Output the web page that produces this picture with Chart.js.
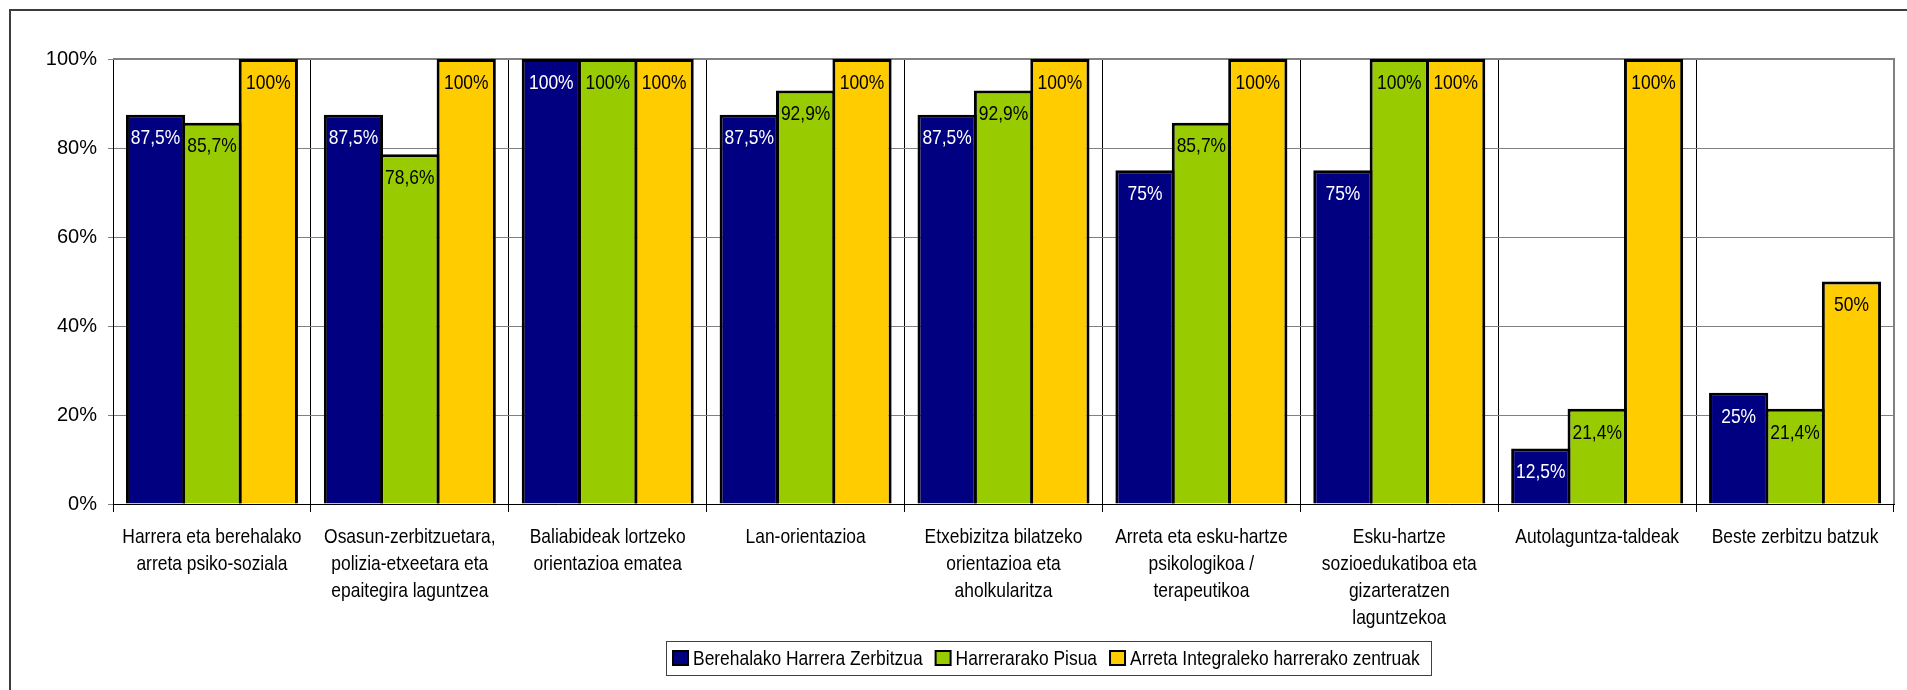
<!DOCTYPE html>
<html>
<head>
<meta charset="utf-8">
<script src="https://cdn.jsdelivr.net/npm/chart.js@4/dist/chart.umd.min.js"></script>
<style>
  html, body { margin: 0; padding: 0; background: #fff; }
  #wrap { width: 1907px; height: 690px; }
</style>
</head>
<body>
<div id="wrap"><canvas id="chart" width="1907" height="690"></canvas></div>
<script>
// categories (multi-line labels as in the original)
var categories = [
    ['Harrera eta berehalako', 'arreta psiko-soziala'],
    ['Osasun-zerbitzuetara,', 'polizia-etxeetara eta', 'epaitegira laguntzea'],
    ['Baliabideak lortzeko', 'orientazioa ematea'],
    'Lan-orientazioa',
    ['Etxebizitza bilatzeko', 'orientazioa eta', 'aholkularitza'],
    ['Arreta eta esku-hartze', 'psikologikoa /', 'terapeutikoa'],
    ['Esku-hartze', 'sozioedukatiboa eta', 'gizarteratzen', 'laguntzekoa'],
    'Autolaguntza-taldeak',
    'Beste zerbitzu batzuk'
];

var seriesNames = ['Berehalako Harrera Zerbitzua', 'Harrerarako Pisua', 'Arreta Integraleko harrerako zentruak'];

var berehalako = [87.5, 87.5, 100, 87.5, 87.5, 75, 75, 12.5, 25];
var pisua      = [85.7, 78.6, 100, 92.9, 92.9, 85.7, 100, 21.4, 21.4];
var zentruak   = [100, 100, 100, 100, 100, 100, 100, 100, 50];

var yTicks = [0, 20, 40, 60, 80, 100];

var colors      = ['#000080', '#99CC00', '#FFCC00'];
var labelColors = ['#ffffff', '#000000', '#000000'];

var regularFont = "'Liberation Sans', Arial, sans-serif";
// no Arial Narrow here, so squeeze Liberation Sans horizontally
var NARROW = 0.83;
var narrowCss = '21px ' + regularFont;

function pct(v) { return String(v).replace('.', ',') + '%'; }

function narrowText(ctx, text, x, y, align) {
    ctx.save();
    ctx.translate(x, y);
    ctx.scale(NARROW, 1);
    ctx.textAlign = align;
    ctx.fillText(text, 0, 0);
    ctx.restore();
}

// thin dark frame round the whole chart
var outerFrame = {
    id: 'outerFrame',
    beforeDraw: function (chart) {
        var ctx = chart.ctx;
        ctx.save();
        ctx.fillStyle = '#fff';
        ctx.fillRect(0, 0, chart.width, chart.height);
        ctx.strokeStyle = '#3c3c3c';
        ctx.lineWidth = 2;
        ctx.strokeRect(10, 10, chart.width + 20, chart.height + 20);
        ctx.restore();
    }
};

// grey plot-area border on top and right
var plotFrame = {
    id: 'plotFrame',
    beforeDatasetsDraw: function (chart) {
        var a = chart.chartArea, ctx = chart.ctx;
        ctx.save();
        ctx.strokeStyle = '#808080';
        ctx.lineWidth = 2;
        ctx.beginPath();
        ctx.moveTo(a.left, a.top);
        ctx.lineTo(a.right, a.top);
        ctx.lineTo(a.right, a.bottom);
        ctx.stroke();
        ctx.restore();
    }
};

// value labels inside the top of each bar
var valueLabels = {
    id: 'valueLabels',
    afterDatasetsDraw: function (chart) {
        var ctx = chart.ctx;
        ctx.save();
        ctx.font = narrowCss;
        ctx.textBaseline = 'middle';
        chart.data.datasets.forEach(function (ds, i) {
            var meta = chart.getDatasetMeta(i);
            meta.data.forEach(function (bar, j) {
                ctx.fillStyle = labelColors[i];
                narrowText(ctx, pct(ds.data[j]), bar.x, bar.y + 24, 'center');
            });
        });
        ctx.restore();
    }
};

// category labels under the x axis, placed by the x scale
var categoryLabels = {
    id: 'categoryLabels',
    afterDraw: function (chart) {
        var ctx = chart.ctx, xs = chart.scales.x;
        ctx.save();
        ctx.font = narrowCss;
        ctx.textBaseline = 'middle';
        ctx.fillStyle = '#000';
        chart.data.labels.forEach(function (lab, i) {
            var lines = Array.isArray(lab) ? lab : [lab];
            var x = xs.getPixelForValue(i);
            lines.forEach(function (line, k) {
                narrowText(ctx, line, x, xs.top + 33 + k * 27, 'center');
            });
        });
        ctx.restore();
    }
};

// boxed legend below the category labels
var boxedLegend = {
    id: 'boxedLegend',
    afterDraw: function (chart) {
        var ctx = chart.ctx;
        ctx.save();
        ctx.font = narrowCss;
        ctx.textBaseline = 'middle';
        var box = 15, gap = 5, spacing = 13, padL = 7, padR = 11;
        var widths = chart.data.datasets.map(function (ds) { return ctx.measureText(ds.label).width * NARROW; });
        var total = padL + padR;
        widths.forEach(function (w, i) { total += box + gap + w + (i < widths.length - 1 ? spacing : 0); });
        var cx = 1048.5, top = 641, h = 34, cy = top + h / 2;
        var x = Math.round(cx - total / 2);
        ctx.strokeStyle = '#404040';
        ctx.lineWidth = 1;
        ctx.strokeRect(x + 0.5, top + 0.5, Math.round(total), h);
        x += padL;
        chart.data.datasets.forEach(function (ds, i) {
            ctx.fillStyle = ds.backgroundColor;
            ctx.fillRect(x, cy - 7, box, 14);
            ctx.strokeStyle = '#000';
            ctx.lineWidth = 2;
            ctx.strokeRect(x, cy - 7, box, 14);
            x += box + gap;
            ctx.fillStyle = '#000';
            narrowText(ctx, ds.label, x, cy + 1, 'left');
            x += widths[i] + spacing;
        });
        ctx.restore();
    }
};

new Chart(document.getElementById('chart'), {
    type: 'bar',
    data: {
        labels: categories,
        datasets: [berehalako, pisua, zentruak].map(function (d, i) {
            return {
                label: seriesNames[i],
                data: d,
                backgroundColor: colors[i],
                borderColor: '#000',
                borderWidth: 3,
                borderSkipped: 'bottom',
                // slight overlap so neighbouring bars share one outline
                barPercentage: 1.05,
                categoryPercentage: 0.855
            };
        })
    },
    plugins: [outerFrame, plotFrame, valueLabels, categoryLabels, boxedLegend],
    options: {
        responsive: false,
        animation: false,
        layout: { padding: { left: 0, top: 59, right: 13, bottom: 0 } },
        plugins: {
            legend: { display: false },
            tooltip: { enabled: false }
        },
        scales: {
            x: {
                grid: { color: '#000', lineWidth: 1, tickLength: 8, offset: true },
                border: { color: '#000', width: 1 },
                ticks: { display: false, autoSkip: false },
                afterFit: function (s) { s.height = 186; }
            },
            y: {
                min: 0,
                max: 100,
                afterBuildTicks: function (s) { s.ticks = yTicks.map(function (v) { return { value: v }; }); },
                grid: { color: '#808080', lineWidth: 1, tickLength: 5 },
                border: { color: '#000', width: 1 },
                ticks: {
                    color: '#000',
                    padding: 11,
                    font: { family: regularFont, size: 20 },
                    callback: function (v) { return v + '%'; }
                },
                afterFit: function (s) { s.width = 113; }
            }
        }
    }
});
</script>
</body>
</html>
